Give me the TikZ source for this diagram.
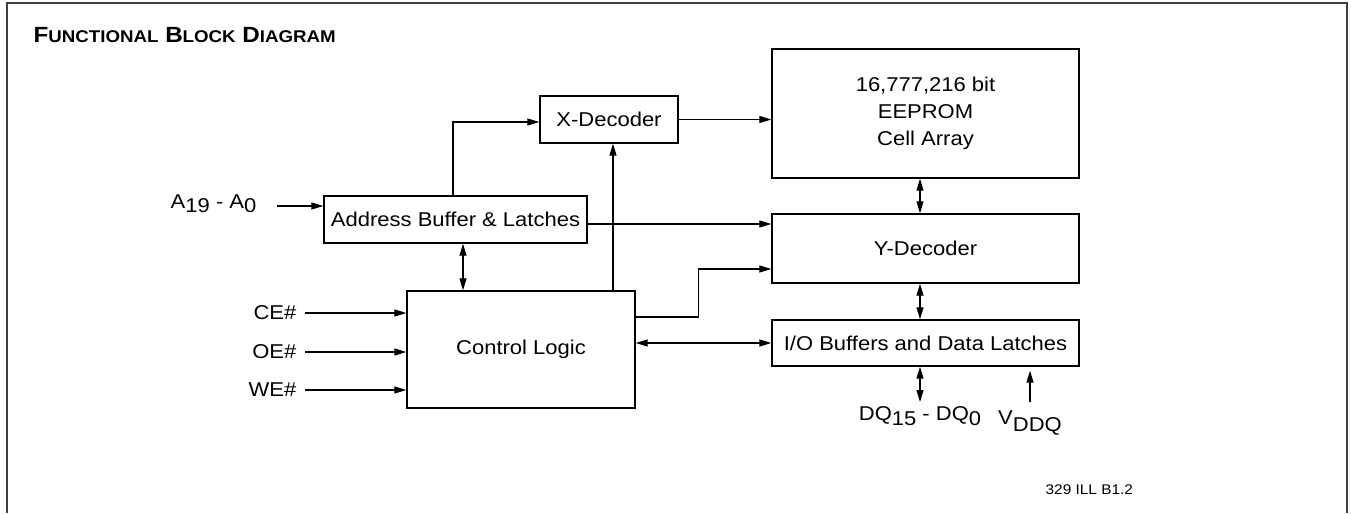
\documentclass[tikz,border=0pt]{standalone}
\usepackage{fontspec}
\setmainfont{Liberation Sans}[FakeStretch=1.1]
\usetikzlibrary{arrows.meta,positioning}

% 下标：与正文同号，只下沉
\newcommand\lowr[2][4.5pt]{\raisebox{-#1}{#2}}
% 标题的假小型大写
\newcommand\bigsmall[2]{{\fontsize{22}{26}\selectfont #1}{\fontsize{17}{20}\selectfont #2}}

\begin{document}
\begin{tikzpicture}[x=1pt, y=-1pt, line width=1.3pt, line join=miter,
    blk/.style={draw, line width=1.4pt, inner sep=0pt, align=center,
                font=\fontsize{20}{26.7}\selectfont},
    lbl/.style={inner sep=0pt, font=\fontsize{20}{24}\selectfont},
    sig/.style={-{Triangle[length=12pt, width=7pt]}},
    bus/.style={{Triangle[length=12pt, width=7pt]}-{Triangle[length=12pt, width=7pt]}}]

  % ── 外框（左、上、右三边）──
  \draw[line width=1.6pt, black!75] (7,513) -- (7,3) -- (1347,3) -- (1347,513);

  % ── 标题 ──
  \node[anchor=base west, inner sep=0pt, font=\bfseries\fontsize{22}{26}\selectfont] (title) at (33,42)
       {\bigsmall{F}{UNCTIONAL} \bigsmall{B}{LOCK} \bigsmall{D}{IAGRAM}};

  % ── 方框（中心坐标 + 尺寸，按扫描量出）──
  \node[blk, minimum width=263pt, minimum height=47pt]  (addr)  at (455.5,219.5) {Address Buffer \& Latches};
  \node[blk, minimum width=138pt, minimum height=47pt]  (xdec)  at (609,119.5)   {X-Decoder};
  \node[blk, minimum width=307pt, minimum height=129pt] (array) at (925.5,113.5) {16,777,216 bit\\EEPROM\\Cell Array};
  \node[blk, minimum width=307pt, minimum height=69pt]  (ydec)  at (925.5,248.5) {Y-Decoder};
  \node[blk, minimum width=307pt, minimum height=46pt]  (iobuf) at (925.5,343)   {I/O Buffers and Data Latches};
  \node[blk, minimum width=228pt, minimum height=117pt] (ctrl)  at (521,349.5)   {Control Logic};

  % ── 地址输入 ──
  \coordinate (aIn) at (277,206);
  \draw[sig] (aIn) -- (aIn -| addr.west);
  \node[lbl, anchor=base east] (alab) at ([xshift=-20pt, yshift=-2pt]aIn) {A\lowr{19} - A\lowr{0}};

  % ── 地址 → X / Y 译码 ──
  \draw[sig] ([xshift=-2.5pt]addr.north) |- ([yshift=-2.5pt]xdec.west);
  \draw[sig] (xdec.east) -- (xdec.east -| array.west);
  \draw[sig] ([yshift=-4.5pt]addr.east) -- ([yshift=-4.5pt]addr.east -| ydec.west);
  \draw[bus] ([xshift=7.5pt]addr.south) -- ([xshift=7.5pt]addr.south |- ctrl.north);

  % ── 控制逻辑的出线 ──
  \draw[sig] ([xshift=4pt]xdec.south |- ctrl.north) -- ([xshift=4pt]xdec.south);
  \draw[sig] ([yshift=32.5pt]ctrl.east) -- ++(63,0) |- ([yshift=-20.5pt]ydec.west);
  \draw[bus] (iobuf.west -| ctrl.east) -- (iobuf.west);

  % ── 右列的双向总线 ──
  \draw[bus] ([xshift=-5.5pt]array.south) -- ([xshift=-5.5pt]ydec.north);
  \draw[bus] ([xshift=-5.5pt]ydec.south) -- ([xshift=-5.5pt]iobuf.north);

  % ── 数据口与 VDDQ ──
  \coordinate (dqEnd) at (920,402);
  \draw[bus] (dqEnd |- iobuf.south) -- (dqEnd);
  \node[lbl, below=4pt of dqEnd] (dqlab) {DQ\lowr{15} - DQ\lowr{0}};

  \coordinate (vIn) at (1030,402);
  \draw[sig] (vIn) -- ([yshift=-4pt]vIn |- iobuf.south);
  \node[lbl, below=8pt of vIn] (vlab) {V\lowr[7pt]{DDQ}};

  % ── 控制输入 CE# / OE# / WE# ──
  \foreach \nm/\yy in {CE/313, OE/352, WE/390} {
    \coordinate (in\nm) at (305,\yy);
    \draw[sig] (in\nm) -- (in\nm -| ctrl.west);
    \node[lbl, left=8pt of in\nm] (lab\nm) {\nm\#};
  }

  % ── 图号 ──
  \node[anchor=base west, inner sep=0pt, font=\fontsize{14}{16}\selectfont] (figid) at (1045,494) {329 ILL B1.2};

  \path[use as bounding box] (0,0) rectangle (1351,513);
\end{tikzpicture}
\end{document}
